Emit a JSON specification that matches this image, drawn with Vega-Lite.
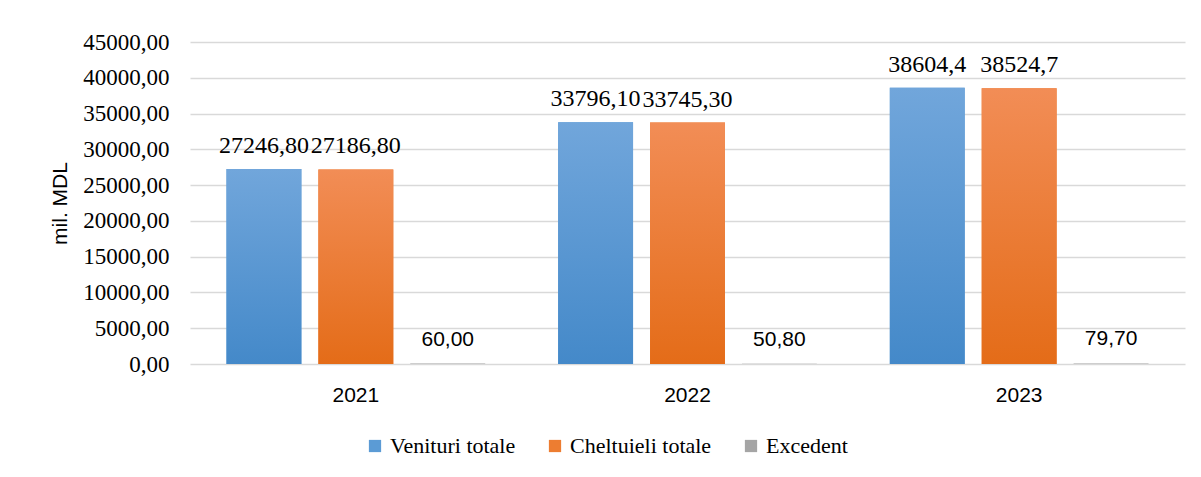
{
  "$schema": "https://vega.github.io/schema/vega-lite/v6.json",
  "width": 995,
  "height": 322,
  "autosize": {"type": "none"},
  "padding": {"left": 190, "top": 42, "right": 16, "bottom": 113},
  "background": "#ffffff",
  "config": {
    "view": {"stroke": null},
    "axisY": {
      "labelFont": "Liberation Serif", "labelFontSize": 23, "labelColor": "#000000",
      "titleFont": "Liberation Sans", "titleFontSize": 21, "titleFontWeight": "normal", "titleColor": "#000000"
    },
    "axisX": {
      "labelFont": "Liberation Sans", "labelFontSize": 21, "labelColor": "#000000"
    }
  },
  "data": {
    "values": [
      {"year": "2021", "series": "Venituri totale", "value": 27246.8, "label": "27246,80"},
      {"year": "2021", "series": "Cheltuieli totale", "value": 27186.8, "label": "27186,80"},
      {"year": "2021", "series": "Excedent", "value": 60.0, "label": "60,00"},
      {"year": "2022", "series": "Venituri totale", "value": 33796.1, "label": "33796,10"},
      {"year": "2022", "series": "Cheltuieli totale", "value": 33745.3, "label": "33745,30"},
      {"year": "2022", "series": "Excedent", "value": 50.8, "label": "50,80"},
      {"year": "2023", "series": "Venituri totale", "value": 38604.4, "label": "38604,4"},
      {"year": "2023", "series": "Cheltuieli totale", "value": 38524.7, "label": "38524,7"},
      {"year": "2023", "series": "Excedent", "value": 79.7, "label": "79,70"}
    ]
  },
  "encoding": {
    "x": {
      "field": "year", "type": "nominal",
      "scale": {"paddingInner": 0.22, "paddingOuter": 0.11},
      "axis": {
        "title": null, "ticks": false, "domain": false, "labelAngle": 0,
        "labelFont": "Liberation Sans", "labelFontSize": 21, "labelColor": "#000000",
        "labelPadding": 20
      }
    },
    "xOffset": {
      "field": "series", "type": "nominal",
      "scale": {"domain": ["Venituri totale", "Cheltuieli totale", "Excedent"], "paddingInner": 0.185, "paddingOuter": 0}
    },
    "y": {
      "field": "value", "type": "quantitative",
      "scale": {"domain": [0, 45000], "nice": false},
      "axis": {
        "title": "mil. MDL", "titleFont": "Liberation Sans", "titleFontSize": 21,
        "titleFontWeight": "normal", "titleColor": "#000000", "titlePadding": 12,
        "values": [0, 5000, 10000, 15000, 20000, 25000, 30000, 35000, 40000, 45000],
        "labelExpr": "replace(format(datum.value, '.2f'), '.', ',')",
        "labelFont": "Liberation Serif", "labelFontSize": 23, "labelColor": "#000000",
        "labelPadding": 21, "ticks": false, "domain": false,
        "grid": true, "gridColor": "#D9D9D9", "gridWidth": 1.5
      }
    }
  },
  "layer": [
    {
      "mark": {"type": "bar"},
      "encoding": {
        "color": {
          "field": "series", "type": "nominal",
          "scale": {"domain": ["Venituri totale", "Cheltuieli totale", "Excedent"], "range": ["#5B9BD5", "#ED7D31", "#A5A5A5"]},
          "legend": {
            "title": null, "orient": "none", "direction": "horizontal",
            "legendX": 174, "legendY": 393,
            "symbolType": "square", "symbolSize": 150, "symbolStrokeWidth": 0,
            "labelFont": "Liberation Serif", "labelFontSize": 22, "labelColor": "#000000",
            "labelOffset": 4, "columnPadding": 28
          }
        }
      }
    },
    {
      "transform": [{"filter": "datum.series === 'Venituri totale'"}],
      "mark": {
        "type": "bar",
        "color": {"gradient": "linear", "x1": 0, "y1": 0, "x2": 0, "y2": 1,
          "stops": [{"offset": 0, "color": "#71A6DB"}, {"offset": 1, "color": "#4489C9"}]}
      }
    },
    {
      "transform": [{"filter": "datum.series === 'Cheltuieli totale'"}],
      "mark": {
        "type": "bar",
        "color": {"gradient": "linear", "x1": 0, "y1": 0, "x2": 0, "y2": 1,
          "stops": [{"offset": 0, "color": "#F28D56"}, {"offset": 1, "color": "#E46C18"}]}
      }
    },
    {
      "transform": [{"filter": "datum.series !== 'Excedent'"}],
      "mark": {"type": "text", "font": "Liberation Serif", "fontSize": 24, "baseline": "alphabetic", "dy": -16, "color": "#000000"},
      "encoding": {"text": {"field": "label"}}
    },
    {
      "transform": [{"filter": "datum.series === 'Excedent'"}],
      "mark": {"type": "text", "font": "Liberation Sans", "fontSize": 21, "baseline": "alphabetic", "dy": -18, "color": "#000000"},
      "encoding": {"text": {"field": "label"}}
    }
  ]
}
